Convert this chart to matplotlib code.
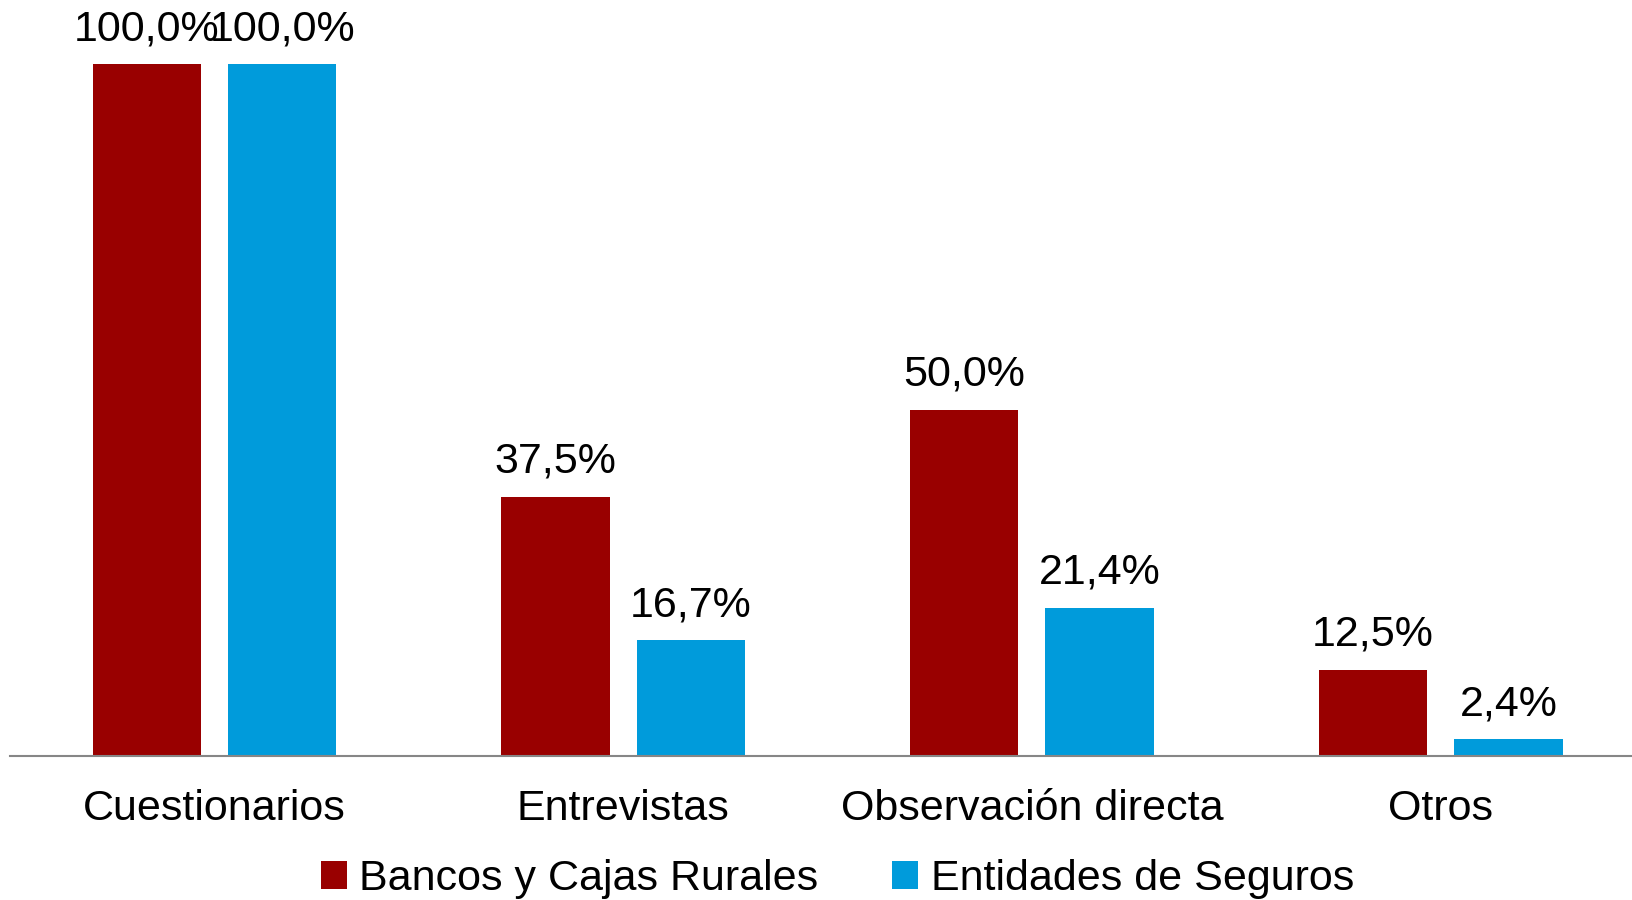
import numpy as np
import matplotlib
matplotlib.use("Agg")
import matplotlib.pyplot as plt

plt.rcParams['font.family'] = ['Liberation Sans', 'DejaVu Sans']

# datos
categorias = ["Cuestionarios", "Entrevistas", "Observación directa", "Otros"]
bancos = [100.0, 37.5, 50.0, 12.5]
seguros = [100.0, 16.7, 21.4, 2.4]
series = ["Bancos y Cajas Rurales", "Entidades de Seguros"]
colores = ["#990000", "#009BDB"]

fig = plt.figure(figsize=(16.32, 9), dpi=100)
ax = fig.add_axes([0.0064, 0.160, 0.9936, 0.840])

x = np.arange(len(categorias))
ancho = 0.265
sep = 0.066
off = (ancho + sep) / 2

b1 = ax.bar(x - off, bancos, ancho, color=colores[0], label=series[0])
b2 = ax.bar(x + off, seguros, ancho, color=colores[1], label=series[1])

for barras, vals in ((b1, bancos), (b2, seguros)):
    for r, v in zip(barras, vals):
        ax.text(r.get_x() + r.get_width() / 2, v + 2.2,
                f"{v:.1f}".replace(".", ",") + "%",
                ha="center", va="bottom", fontsize=31)

ax.set_xlim(-0.499, 3.468)
ax.set_ylim(0, 109.3)
ax.set_yticks([])
for s in ["top", "right", "left"]:
    ax.spines[s].set_visible(False)
ax.spines["bottom"].set_color("#868686")
ax.spines["bottom"].set_linewidth(1.5)
ax.set_xticks(x)
ax.set_xticklabels(categorias, fontsize=31)
ax.tick_params(axis="x", length=0, pad=24)

fig.legend(loc="center", bbox_to_anchor=(0.513, 0.023), ncol=2, frameon=False,
           fontsize=31, handlelength=0.6, handleheight=0.6, handletextpad=0.3,
           columnspacing=1.7, borderaxespad=0)

fig.savefig("out.png", dpi=100)
